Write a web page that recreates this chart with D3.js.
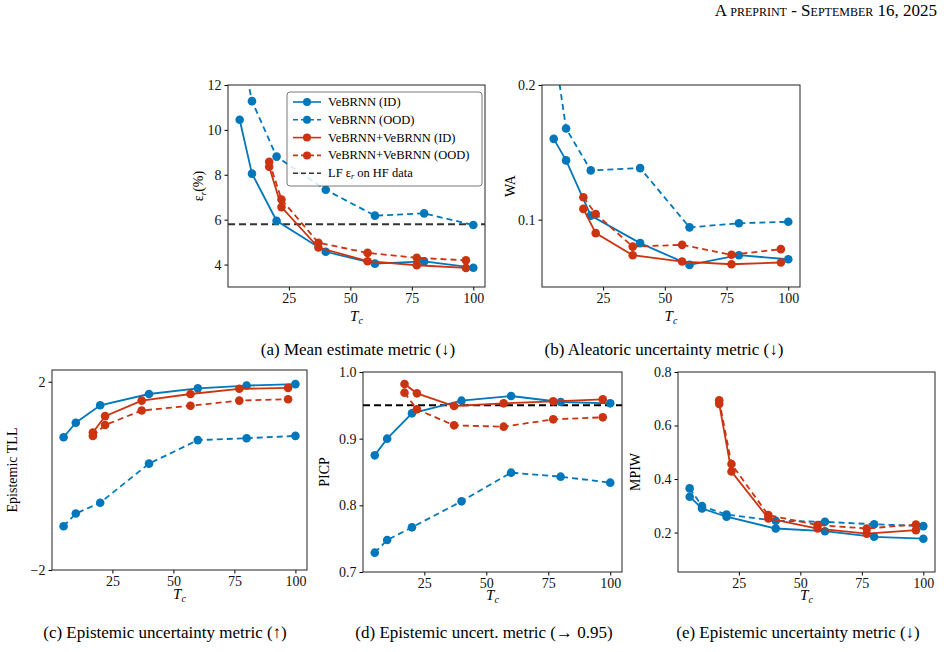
<!DOCTYPE html>
<html><head><meta charset="utf-8">
<script src="https://cdn.jsdelivr.net/npm/d3@7/dist/d3.min.js"></script>
<style>body{margin:0;background:#fff}svg text{font-family:"Liberation Serif","DejaVu Serif",serif}</style>
</head><body><svg id="c" width="944" height="652"></svg>
<script>
const xBlue=[5,10,20,40,60,80,100];
const xRed=[17,22,37,57,77,97];
const xTicks=[25,50,75,100];
// (a) relative error
const aBlueID=[10.45,8.05,5.95,4.57,4.04,4.14,3.86];
const aBlueOOD=[14,11.28,8.81,7.33,6.18,6.28,5.76];
const aRedID=[8.36,6.56,4.76,4.15,3.97,3.85];
const aRedOOD=[8.58,6.9,4.97,4.52,4.3,4.19];
const aRef=5.8;
const aTicks=[4,6,8,10,12];
// (b) WA
const bBlueID=[0.160,0.144,0.103,0.0826,0.0664,0.0736,0.0706];
const bBlueOOD=[0.23,0.1677,0.1366,0.1383,0.0943,0.0973,0.0985];
const bRedID=[0.108,0.090,0.0736,0.0689,0.0669,0.0682];
const bRedOOD=[0.1167,0.1042,0.080,0.0813,0.0739,0.0781];
const bTicks=[0.1,0.2];
// (c) TLL
const cBlueID=[0.82,1.13,1.50,1.74,1.86,1.92,1.95];
const cBlueOOD=[-1.07,-0.80,-0.57,0.26,0.76,0.80,0.85];
const cRedID=[0.92,1.27,1.60,1.74,1.85,1.87];
const cRedOOD=[0.85,1.08,1.39,1.49,1.60,1.63];
const cTicks=[-2,2];
// (d) PICP
const dBlueID=[0.875,0.900,0.938,0.957,0.964,0.955,0.953];
const dBlueOOD=[0.729,0.748,0.767,0.806,0.849,0.843,0.834];
const dRedID=[0.982,0.968,0.949,0.953,0.956,0.959];
const dRedOOD=[0.969,0.944,0.920,0.918,0.929,0.932];
const dRef=0.95;
const dTicks=[0.7,0.8,0.9,1.0];
// (e) MPIW
const eBlueID=[0.334,0.29,0.259,0.215,0.205,0.184,0.177];
const eBlueOOD=[0.365,0.299,0.267,0.244,0.24,0.231,0.224];
const eRedID=[0.681,0.428,0.253,0.215,0.196,0.209];
const eRedOOD=[0.694,0.456,0.265,0.228,0.215,0.23];
const eTicks=[0.2,0.4,0.6,0.8];
const legendLabels=["VeBRNN (ID)","VeBRNN (OOD)","VeBRNN+VeBRNN (ID)","VeBRNN+VeBRNN (OOD)"];
const captions=["(a) Mean estimate metric (\u2193)","(b) Aleatoric uncertainty metric (\u2193)","(c) Epistemic uncertainty metric (\u2191)","(d) Epistemic uncert. metric (\u2192 0.95)","(e) Epistemic uncertainty metric (\u2193)"];

const BLUE="#0077BB", RED="#CC3311";
const FONT='"Liberation Serif","DejaVu Serif",serif';
const svg=d3.select("#c");
svg.append("text").attr("x",937).attr("y",16).attr("text-anchor","end").attr("font-size",17)
  .style("font-variant","small-caps").text("A preprint - September 16, 2025");

function panel(o){
  const g=svg.append("g");
  const x=d3.scaleLinear().domain([0.25,104.75]).range([o.l,o.r]);
  const y=d3.scaleLinear().domain(o.yd).range([o.b,o.t]);
  const defs=svg.append("defs");
  const cid="clip"+o.id;
  defs.append("clipPath").attr("id",cid).append("rect").attr("x",o.l).attr("y",o.t).attr("width",o.r-o.l).attr("height",o.b-o.t);
  g.append("g").attr("transform",`translate(0,${o.b})`).call(d3.axisBottom(x).tickValues(xTicks).tickSize(3.5).tickFormat(d3.format("d")))
   .call(a=>{a.attr("font-family",FONT);a.select(".domain").remove();a.selectAll("text").attr("font-size",14).attr("fill","#111");});
  g.append("g").attr("transform",`translate(${o.l},0)`).call(d3.axisLeft(y).tickValues(o.ticks).tickSize(3.5).tickFormat(o.fmt))
   .call(a=>{a.attr("font-family",FONT);a.select(".domain").remove();a.selectAll("text").attr("font-size",14).attr("fill","#111");});
  const pg=g.append("g").attr("clip-path",`url(#${cid})`);
  if(o.ref!==undefined) pg.append("line").attr("x1",o.l).attr("x2",o.r).attr("y1",y(o.ref)).attr("y2",y(o.ref))
     .attr("stroke",o.refColor).attr("stroke-width",2).attr("stroke-dasharray","7,4");
  const series=[[xBlue,o.s[0],BLUE,null],[xBlue,o.s[1],BLUE,"6,4"],[xRed,o.s[2],RED,null],[xRed,o.s[3],RED,"6,4"]];
  const line=d3.line().x(d=>x(d[0])).y(d=>y(d[1]));
  series.forEach(([xs,ys,c,da])=>{
    const pts=xs.map((v,i)=>[v,ys[i]]);
    pg.append("path").attr("d",line(pts)).attr("fill","none").attr("stroke",c).attr("stroke-width",1.8).attr("stroke-dasharray",da);
    pg.selectAll(null).data(pts).join("circle").attr("cx",d=>x(d[0])).attr("cy",d=>y(d[1])).attr("r",4.3).attr("fill",c);
  });
  g.append("rect").attr("x",o.l).attr("y",o.t).attr("width",o.r-o.l).attr("height",o.b-o.t).attr("fill","none").attr("stroke","#222").attr("stroke-width",1);
  g.append("text").attr("x",(o.l+o.r)/2).attr("y",o.b+o.xo).attr("text-anchor","middle").attr("font-size",15).attr("font-style","italic")
   .html('T<tspan font-size="10" dy="3">c</tspan>');
  const yl=g.append("text").attr("transform",`translate(${o.yl},${(o.t+o.b)/2}) rotate(-90)`).attr("text-anchor","middle").attr("font-size",14);
  if(o.id==="a") yl.html('\u03b5<tspan font-size="9" dy="3" font-style="italic">r</tspan><tspan dy="-3">(%)</tspan>'); else yl.text(o.ylabel);
  svg.append("text").attr("x",o.cx).attr("y",o.cy).attr("text-anchor","middle").attr("font-size",17).text(o.cap);
  return {x,y};
}
panel({id:"a",l:228,r:485,t:85,b:287,yd:[3,12],ticks:aTicks,fmt:d3.format("d"),s:[aBlueID,aBlueOOD,aRedID,aRedOOD],ref:aRef,refColor:"#333",yl:203,xo:34,cap:captions[0],cx:358,cy:355});
panel({id:"b",l:542,r:800,t:85,b:287,yd:[0.05,0.2],ticks:bTicks,fmt:d3.format(".1f"),s:[bBlueID,bBlueOOD,bRedID,bRedOOD],yl:515,xo:34,ylabel:"WA",cap:captions[1],cx:664,cy:355});
panel({id:"c",l:52,r:307,t:370,b:570,yd:[-2,2.25],ticks:cTicks,fmt:d3.format("d"),s:[cBlueID,cBlueOOD,cRedID,cRedOOD],yl:17,xo:29,ylabel:"Epistemic TLL",cap:captions[2],cx:165,cy:638});
panel({id:"d",l:363,r:622,t:372,b:572,yd:[0.7,1.0],ticks:dTicks,fmt:d3.format(".1f"),s:[dBlueID,dBlueOOD,dRedID,dRedOOD],ref:dRef,refColor:"#000",yl:329,xo:28,ylabel:"PICP",cap:captions[3],cx:484,cy:638});
panel({id:"e",l:678,r:935,t:372,b:572,yd:[0.0525,0.8],ticks:eTicks,fmt:d3.format(".1f"),s:[eBlueID,eBlueOOD,eRedID,eRedOOD],yl:640,xo:28,ylabel:"MPIW",cap:captions[4],cx:798,cy:638});

// legend in (a)
const lg=svg.append("g");
lg.append("rect").attr("x",287).attr("y",92).attr("width",195).attr("height",94).attr("rx",3).attr("fill","#fff").attr("fill-opacity",0.85).attr("stroke","#555").attr("stroke-width",0.8);
const items=[[BLUE,null,true],[BLUE,"5,3",true],[RED,null,true],[RED,"5,3",true],["#333","5,3",false]];
items.forEach(([c,da,mk],i)=>{
  const yy=102+i*17.8;
  lg.append("line").attr("x1",293).attr("x2",321).attr("y1",yy).attr("y2",yy).attr("stroke",c).attr("stroke-width",1.6).attr("stroke-dasharray",da);
  if(mk) lg.append("circle").attr("cx",307).attr("cy",yy).attr("r",4).attr("fill",c);
  const t=lg.append("text").attr("x",328).attr("y",yy+4).attr("font-size",12.5);
  if(i<4) t.text(legendLabels[i]); else t.html('LF \u03b5<tspan font-size="8" dy="2" font-style="italic">r</tspan><tspan dy="-2"> on HF data</tspan>');
});
</script></body></html>
